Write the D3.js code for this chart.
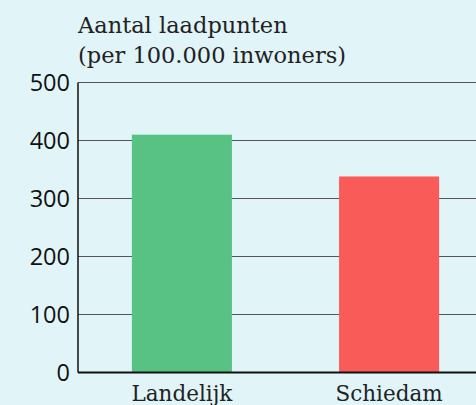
<!DOCTYPE html>
<html><head><meta charset="utf-8">
<script src="https://cdn.jsdelivr.net/npm/d3@7"></script>
<style>html,body{margin:0;padding:0;background:#e1f4f7;}svg{display:block;}</style>
</head><body>
<svg id="c" width="476" height="405"></svg>
<script>
const categories = ["Landelijk", "Schiedam"];
const values = [410, 338];
const colors = ["#58c285", "#f95c58"];
const yTicks = [0, 100, 200, 300, 400, 500];
const titleLines = ["Aantal laadpunten", "(per 100.000 inwoners)"];

const W = 476, H = 405;
const svg = d3.select("#c");
svg.append("rect").attr("width", W).attr("height", H).attr("fill", "#e1f4f7");

const x0 = 78, yTop = 82.5, yBot = 372.5;
const y = d3.scaleLinear().domain([0, 500]).range([yBot, yTop]);
const x = d3.scaleBand().domain(categories).range([x0, 493]).paddingInner(0.517).paddingOuter(0.26);

// gridlines
svg.append("g").selectAll("line").data(yTicks.filter(d => d > 0)).join("line")
  .attr("x1", x0).attr("x2", W).attr("y1", d => y(d)).attr("y2", d => y(d))
  .attr("stroke", "#555").attr("stroke-width", 1.2);

// bars
svg.append("g").selectAll("rect").data(categories).join("rect")
  .attr("x", d => x(d)).attr("width", x.bandwidth())
  .attr("y", (d, i) => y(values[i])).attr("height", (d, i) => yBot - y(values[i]))
  .attr("fill", (d, i) => colors[i]);

// y axis line
svg.append("line").attr("x1", x0).attr("x2", x0).attr("y1", yTop).attr("y2", yBot)
  .attr("stroke", "#111").attr("stroke-width", 1.5);
// zero line
svg.append("line").attr("x1", x0).attr("x2", W).attr("y1", yBot).attr("y2", yBot)
  .attr("stroke", "#111").attr("stroke-width", 2);

// y tick labels
svg.append("g").selectAll("text").data(yTicks).join("text")
  .attr("x", 70).attr("y", d => y(d)).attr("dy", "0.36em")
  .attr("text-anchor", "end")
  .attr("font-family", "Open Sans").attr("font-size", 23.5).attr("fill", "#111")
  .text(d => d);

// x labels
svg.append("g").selectAll("text").data(categories).join("text")
  .attr("x", d => x(d) + x.bandwidth() / 2).attr("y", 401)
  .attr("text-anchor", "middle")
  .attr("font-family", "DejaVu Serif").attr("font-size", 21.5).attr("fill", "#222")
  .text(d => d);

// title
svg.append("g").selectAll("text").data(titleLines).join("text")
  .attr("x", x0).attr("y", (d, i) => 33 + i * 29.5)
  .attr("font-family", "DejaVu Serif").attr("font-size", 22.5).attr("fill", "#222")
  .text(d => d);
</script>
</body></html>
